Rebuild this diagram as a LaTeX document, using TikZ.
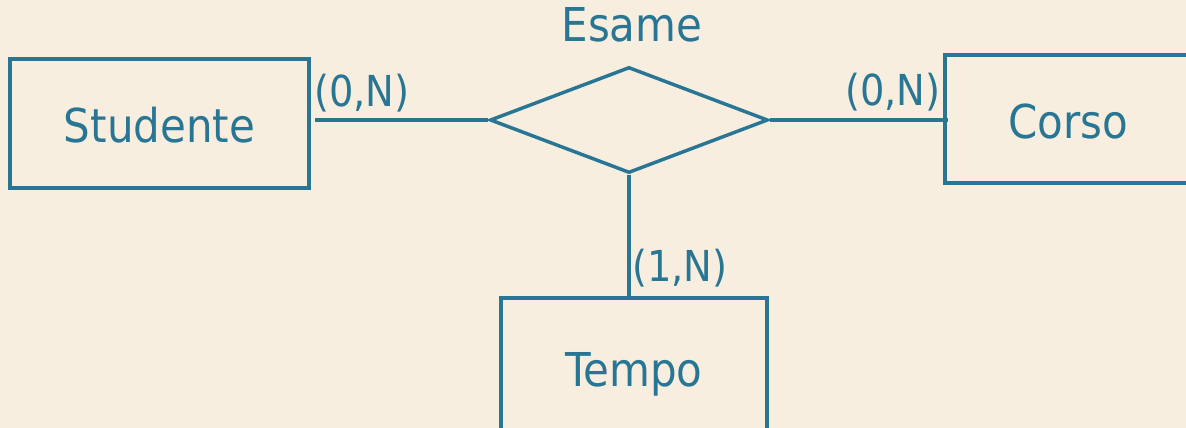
\documentclass[tikz,border=0pt]{standalone}
\usepackage{fontspec}
\setmainfont{DejaVu Sans Condensed}
\usetikzlibrary{shapes.geometric}
\definecolor{erblue}{HTML}{297694}
\definecolor{erpaper}{HTML}{F7EEE0}
\tikzset{
  entity/.style={rectangle, draw=erblue, line width=2.6pt, inner sep=0pt, text=erblue, text height=33pt, text depth=4pt, font=\fontsize{35}{40}\selectfont},
  relation/.style={diamond, draw=erblue, line width=2.6pt, inner sep=0pt, aspect=2.62, minimum width=208.5pt, minimum height=79.5pt},
  card/.style={text=erblue, inner sep=0pt, font=\fontsize{32}{36}\selectfont},
  link/.style={draw=erblue, line width=2.6pt}
}
\begin{document}
\begin{tikzpicture}[x=0.75pt, y=-0.75pt]
    \fill[erpaper] (0,0) rectangle (1186,428);
    \useasboundingbox (0,0) rectangle (1186,428);
    \node[entity, minimum width=224pt, minimum height=97pt] (studente) at (159.5,123.5) {Studente};
    \node[entity, minimum width=184.5pt, minimum height=96pt] (corso) at (1068,119) {Corso};
    \node[entity, minimum width=199.5pt, minimum height=103.5pt] (tempo) at (634,367) {Tempo};
    \node[relation] (esame) at (629,120) {};
    \node[text=erblue, inner sep=0pt, font=\fontsize{35}{40}\selectfont] (esamename) at (632,25) {Esame};
    \draw[link, shorten <=3.5pt] (esame.west -| studente.east) -- (esame.west);
    \draw[link, shorten >=-3.5pt] (esame.east) -- (esame.east -| corso.west);
    \draw[link] (esame.south) -- (tempo.north -| esame.south);
    \node[card] (cardstudente) at (362,93) {(0,N)};
    \node[card] (cardcorso) at (893,92) {(0,N)};
    \node[card] (cardtempo) at (680,268) {(1,N)};
\end{tikzpicture}
\end{document}
